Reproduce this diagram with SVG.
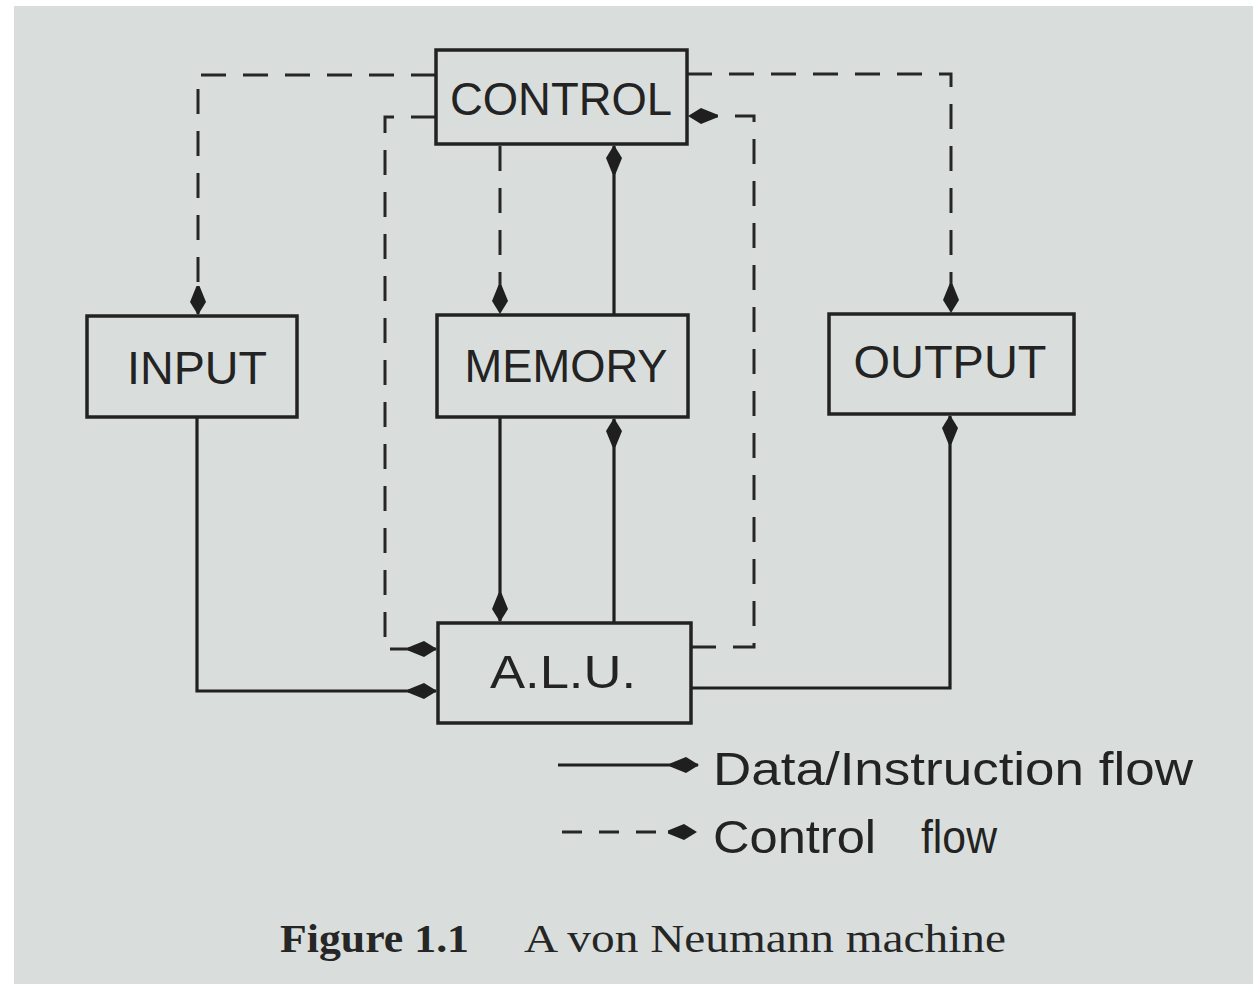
<svg xmlns="http://www.w3.org/2000/svg" width="1253" height="984" viewBox="0 0 1253 984">
  <defs>
    <style>
      .page { fill: #d9dedc; }
      .box { fill: none; stroke: #222; stroke-width: 3.5; }
      .label { font-family: "Liberation Sans", Arial, sans-serif; font-size: 46px; fill: #232323; text-anchor: middle; }
      .legend { font-family: "Liberation Sans", Arial, sans-serif; font-size: 46px; fill: #232323; }
      .caption { font-family: "Liberation Serif", "Times New Roman", serif; font-size: 40px; fill: #262626; }
      .data { fill: none; stroke: #1f1f1f; stroke-width: 3.2; }
      .ctrl { fill: none; stroke: #262626; stroke-width: 3; stroke-dasharray: 25 17; }
    </style>
    <!-- kite-shaped filled arrowhead, tip at the path end -->
    <marker id="head" markerUnits="userSpaceOnUse" markerWidth="34" markerHeight="22" viewBox="-30 -11 34 22" refX="0" refY="0" orient="auto">
      <path d="M1,0 L-12,-8 L-28,-1.5 L-28,1.5 L-12,8 Z" fill="#1f1f1f"/>
    </marker>
  </defs>

  <!-- paper -->
  <rect x="0" y="0" width="1253" height="984" fill="#ffffff"/>
  <rect class="page" x="14" y="6" width="1239" height="978"/>

  <!-- connectors -->
  <g id="connectors">
    <!-- control flow (dashed) -->
    <path class="ctrl" d="M436,75 H198 V314" marker-end="url(#head)"/>
    <path class="ctrl" d="M436,117 H385 V649 H436" marker-end="url(#head)"/>
    <path class="ctrl" d="M500,146 V313" marker-end="url(#head)"/>
    <path class="ctrl" d="M691,647 H754 V116 H689" marker-end="url(#head)"/>
    <path class="ctrl" d="M687,74 H951 V312" marker-end="url(#head)"/>
    <!-- data / instruction flow (solid) -->
    <path class="data" d="M614,315 V146" marker-end="url(#head)"/>
    <path class="data" d="M197,417 V691 H436" marker-end="url(#head)"/>
    <path class="data" d="M500,417 V621" marker-end="url(#head)"/>
    <path class="data" d="M614,623 V419" marker-end="url(#head)"/>
    <path class="data" d="M691,688 H950 V416" marker-end="url(#head)"/>
  </g>

  <!-- nodes -->
  <g id="control">
    <rect class="box" x="436" y="50" width="251" height="94"/>
    <text class="label" x="561" y="115" textLength="222" lengthAdjust="spacingAndGlyphs">CONTROL</text>
  </g>
  <g id="input">
    <rect class="box" x="87" y="316" width="210" height="101"/>
    <text class="label" x="197" y="384" textLength="140" lengthAdjust="spacingAndGlyphs">INPUT</text>
  </g>
  <g id="memory">
    <rect class="box" x="437" y="315" width="251" height="102"/>
    <text class="label" x="566" y="382" textLength="203" lengthAdjust="spacingAndGlyphs">MEMORY</text>
  </g>
  <g id="output">
    <rect class="box" x="829" y="314" width="245" height="100"/>
    <text class="label" x="950" y="378" textLength="193" lengthAdjust="spacingAndGlyphs">OUTPUT</text>
  </g>
  <g id="alu">
    <rect class="box" x="438" y="623" width="253" height="100"/>
    <text class="label" x="563" y="688" textLength="146" lengthAdjust="spacingAndGlyphs">A.L.U.</text>
  </g>

  <!-- key -->
  <g id="legend">
    <path class="data" d="M558,765 H698" marker-end="url(#head)"/>
    <text class="legend" x="713" y="785" textLength="480" lengthAdjust="spacingAndGlyphs">Data/Instruction flow</text>
    <path class="ctrl" d="M562,832 H696" style="stroke-dasharray: 20 17" marker-end="url(#head)"/>
    <text class="legend" y="853"><tspan x="713" textLength="163" lengthAdjust="spacingAndGlyphs">Control</tspan><tspan x="921" textLength="76" lengthAdjust="spacingAndGlyphs">flow</tspan></text>
  </g>

  <!-- caption -->
  <g id="caption">
    <text class="caption" x="280" y="952" font-weight="bold" textLength="189" lengthAdjust="spacingAndGlyphs">Figure 1.1</text>
    <text class="caption" x="524" y="952" textLength="482" lengthAdjust="spacingAndGlyphs">A von Neumann machine</text>
  </g>
</svg>
